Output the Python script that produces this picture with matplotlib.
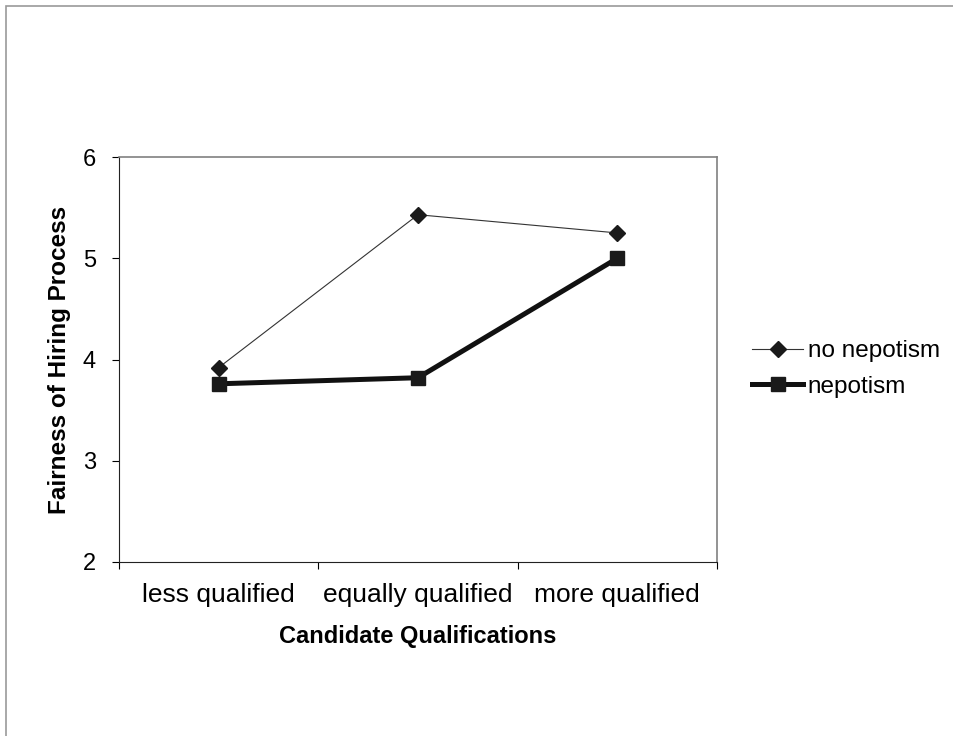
import matplotlib
matplotlib.use("Agg")
import matplotlib.pyplot as plt
from matplotlib.patches import Rectangle

plt.rcParams['font.family'] = ['Liberation Sans', 'DejaVu Sans']

categories = ["less qualified", "equally qualified", "more qualified"]
no_nepotism = [3.92, 5.43, 5.25]
nepotism = [3.76, 3.82, 5.00]
y_ticks = [2, 3, 4, 5, 6]

fig = plt.figure(figsize=(9.54, 7.36), dpi=100)
fig.patches.append(Rectangle((6/954, -0.05), 1.1, (736-6)/736 + 0.05,
                             transform=fig.transFigure, fill=False,
                             edgecolor='#9a9a9a', linewidth=1.2))
ax = fig.add_axes([119/954, (736-562)/736, (717-119)/954, (562-157)/736])

x = list(range(1, len(categories) + 1))
ax.plot(x, no_nepotism, color='#333333', linewidth=0.8, marker='D',
        markersize=8, markerfacecolor='#1a1a1a', markeredgecolor='#1a1a1a',
        label='no nepotism')
ax.plot(x, nepotism, color='#111111', linewidth=3.6, marker='s',
        markersize=10, markerfacecolor='#1a1a1a', markeredgecolor='#1a1a1a',
        label='nepotism')

ax.set_xlim(0.5, len(categories) + 0.5)
ax.set_ylim(2, 6)
ax.set_yticks(y_ticks)
ax.set_yticklabels([str(v) for v in y_ticks], fontsize=17)
ax.set_xticks(x)
ax.set_xticklabels(categories, fontsize=19)
ax.set_xticks([i + 0.5 for i in range(0, len(categories) + 1)], minor=True)
ax.tick_params(axis='x', which='major', length=0, pad=15)
ax.tick_params(axis='x', which='minor', length=5, width=0.8, direction='out')
ax.tick_params(axis='y', which='major', length=5, width=0.8, direction='out', pad=11.5)

for s in ['top', 'right']:
    ax.spines[s].set_color('#808080')
    ax.spines[s].set_linewidth(1.2)
for s in ['left', 'bottom']:
    ax.spines[s].set_color('#222222')
    ax.spines[s].set_linewidth(0.8)

ax.set_xlabel('Candidate Qualifications', fontsize=17, fontweight='bold')
ax.xaxis.label.set_va('baseline')
ax.xaxis.set_label_coords(0.5, (562-643)/405)
ax.set_ylabel('Fairness of Hiring Process', fontsize=17.5, fontweight='bold')
ax.yaxis.label.set_va('center')
ax.yaxis.set_label_coords((60-119)/598, 0.5)

fig.legend(loc='upper left', bbox_to_anchor=(752/954, (736-340)/736), frameon=False,
           fontsize=17.5, handlelength=2.1, handletextpad=0.2, labelspacing=0.57,
           borderaxespad=0, borderpad=0)

fig.savefig('out.png', dpi=100, facecolor='white')
